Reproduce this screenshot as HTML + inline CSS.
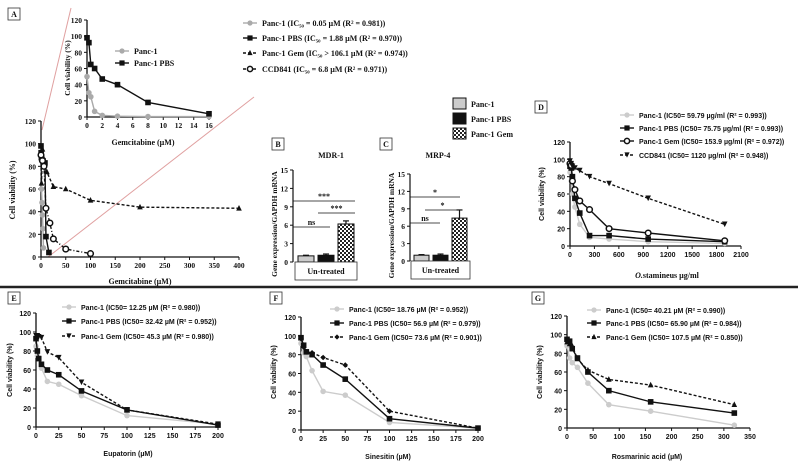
<!DOCTYPE html>
<html><head><meta charset="utf-8"><style>
html,body{margin:0;padding:0;background:#fff;}
svg{display:block;}
.serif{font-family:"Liberation Serif",serif;font-weight:bold;}
.sans{font-family:"Liberation Sans",sans-serif;font-weight:bold;}
</style></head><body>
<svg id="fig" width="798" height="468" viewBox="0 0 798 468" xmlns="http://www.w3.org/2000/svg">
<line x1="0" y1="287" x2="798" y2="287" stroke="#222" stroke-width="2.5"/>
<line x1="71" y1="8" x2="42" y2="130" stroke="#e0a0a0" stroke-width="1"/>
<line x1="254" y1="97" x2="48" y2="257" stroke="#e0a0a0" stroke-width="1"/>
</svg>
<script>
// ---- Panel A main data ----
const aMainX1 = [0,1,2,3,4,5];
const aMainPanc1 = [86,60,48,37,25,8];
const aMainX2 = [0,0.25,0.5,1,2,4,8,10,16];
const aMainPbs = [98,92,90,88,86,85,83,18,4];
const aMainX3 = [0,1,3,6,12,25,50,100,200,400];
const aMainGem = [92,65,95,85,75,62,60,50,44,43];
const aMainX4 = [0,3,6,10,18,25,50,100];
const aMainCcd = [90,85,80,43,30,16,7,3];
// ---- Panel A inset data ----
const aInX = [0,0.25,0.5,1,2,4,8,16];
const aInPanc1 = [50,30,25,7,2,1,0.5,0.5];
const aInPbs = [98,92,65,60,47,40,18,4];
// ---- Panel B / C bars ----
const barCats = ["Panc-1","Panc-1 PBS","Panc-1 Gem"];
const bVals = [1,1.1,6.2];
const bErr = [0.1,0.2,0.5];
const cVals = [1,1,7.4];
const cErr = [0.1,0.2,1.4];
const barTicks = [0,3,6,9,12,15];
// ---- Panel D ----
const dX = [0,15,30,60,120,240,480,960,1900];
const dPanc1 = [85,75,60,45,25,10,8,5,3];
const dPbs = [92,90,80,55,38,12,12,8,5];
const dGem = [95,93,75,65,52,42,20,15,6];
const dCcd = [98,95,92,90,87,80,72,55,25];
// ---- Panel E ----
const eX = [0,1.5,3,6,12.5,25,50,100,200];
const ePanc1 = [85,75,73,62,48,45,33,12,3];
const ePbs = [93,80,72,66,60,55,38,18,2];
const eGem = [96,96,95,94,79,73,47,18,3];
// ---- Panel F ----
const fX = [0,3,6,12.5,25,50,100,200];
const fPanc1 = [92,82,78,63,41,37,8,2];
const fPbs = [98,90,83,80,69,54,12,2];
const fGem = [97,88,83,82,77,69,20,2];
// ---- Panel G ----
const gX = [0,5,10,20,40,80,160,320];
const gPanc1 = [88,75,70,65,48,25,18,3];
const gPbs = [95,93,85,75,60,40,28,16];
const gGem = [92,90,88,74,62,52,46,25];
// ---- ticks ----
const ticks120 = [0,20,40,60,80,100,120];
const aMainXTicks = [0,50,100,150,200,250,300,350,400];
const aInXTicks = [0,2,4,6,8,10,12,14,16];
const dXTicks = [0,300,600,900,1200,1500,1800,2100];
const efXTicks = [0,25,50,75,100,125,150,175,200];
const gXTicks = [0,50,100,150,200,250,300,350];

const NS="http://www.w3.org/2000/svg";
const svg=document.getElementById('fig');
function mk(tag,attrs,parent){const e=document.createElementNS(NS,tag);for(const k in attrs)e.setAttribute(k,attrs[k]);(parent||svg).appendChild(e);return e;}
function txt(s,x,y,size,cls,anchor,parent,rot){const t=mk('text',{x:x,y:y,'font-size':size,'class':cls,'text-anchor':anchor||'middle',fill:'#111'},parent);if(rot)t.setAttribute('transform','rotate(-90 '+x+' '+y+')');t.textContent=s;return t;}

function axes(name,box,xd,yd,xt,yt,cls,fs){
  const g=mk('g',{});
  
  
  const sx=v=>box.x0+(v-xd[0])/(xd[1]-xd[0])*(box.x1-box.x0);
  const sy=v=>box.y0-(v-yd[0])/(yd[1]-yd[0])*(box.y0-box.y1);
  mk('line',{x1:box.x0,y1:box.y0,x2:box.x1,y2:box.y0,stroke:'#111','stroke-width':1.3},g);
  mk('line',{x1:box.x0,y1:box.y0,x2:box.x0,y2:box.y1,stroke:'#111','stroke-width':1.3},g);
  xt.forEach(v=>{mk('line',{x1:sx(v),y1:box.y0,x2:sx(v),y2:box.y0+3,stroke:'#111'},g);txt(String(v),sx(v),box.y0+11,fs,cls,'middle',g);});
  yt.forEach(v=>{mk('line',{x1:box.x0-3,y1:sy(v),x2:box.x0,y2:sy(v),stroke:'#111'},g);txt(String(v),box.x0-5,sy(v)+3,fs,cls,'end',g);});
  return {sx,sy,g};
}
function marker(type,x,y,color,g,r){
  r=r||2.8;
  if(type==='circle')mk('circle',{cx:x,cy:y,r:r,fill:color},g);
  else if(type==='ocircle')mk('circle',{cx:x,cy:y,r:r,fill:'#fff',stroke:color,'stroke-width':1.5},g);
  else if(type==='square')mk('rect',{x:x-r,y:y-r,width:2*r,height:2*r,fill:color},g);
  else if(type==='tri')mk('polygon',{points:`${x},${y-r-0.5} ${x-r},${y+r-0.5} ${x+r},${y+r-0.5}`,fill:color},g);
  else if(type==='dtri')mk('polygon',{points:`${x},${y+r} ${x-r},${y-r} ${x+r},${y-r}`,fill:color},g);
  else if(type==='diamond')mk('polygon',{points:`${x},${y-r} ${x+r},${y} ${x},${y+r} ${x-r},${y}`,fill:color},g);
}
function series(ax,name,xs,ys,color,type,dash,w){
  const g=mk('g',{},ax.g);
  
  
  const pts=xs.map((x,i)=>ax.sx(x)+','+ax.sy(ys[i])).join(' ');
  mk('polyline',{points:pts,fill:'none',stroke:color,'stroke-width':w||1.4,'stroke-dasharray':dash||'none'},g);
  xs.forEach((x,i)=>marker(type,ax.sx(x),ax.sy(ys[i]),color,g));
}
function legend(name,x,y,label,color,type,dash,size,cls,lw){
  const g=mk('g',{});
  
  
  mk('line',{x1:x,y1:y,x2:x+14,y2:y,stroke:color,'stroke-width':1.4,'stroke-dasharray':dash||'none'},g);
  marker(type,x+7,y,color,g,2.6);
  txt(label,x+19,y+3,size,cls,'start',g);
}
function panelLabel(name,ch,x,y,cls){
  const g=mk('g',{});
  
  
  mk('rect',{x:x,y:y,width:12,height:12,fill:'#fff',stroke:'#333','stroke-width':0.8},g);
  txt(ch,x+6,y+9,8,'serif','middle',g);
}
const G1='#aaa',BK='#111';

// ===== Panel A =====
panelLabel('panel-a-label','A',8,8);
const aM=axes('panel-a-main-chart',{x0:41,x1:239,y0:257,y1:121},[0,400],[0,120],aMainXTicks,ticks120,'serif',7.5);
series(aM,'a-main-panc1',aMainX1,aMainPanc1,G1,'circle');
series(aM,'a-main-pbs',aMainX2,aMainPbs,BK,'square');
series(aM,'a-main-gem',aMainX3,aMainGem,BK,'tri','3,2');
series(aM,'a-main-ccd841',aMainX4,aMainCcd,BK,'ocircle','3,2,1,2');
txt('Cell viability  (%)',15,190,8,'serif','middle',aM.g,true);
txt('Gemcitabine (µM)',140,284,8,'serif','middle',aM.g);
const aI=axes('panel-a-inset-chart',{x0:87,x1:209,y0:117,y1:20},[0,16],[0,120],aInXTicks,ticks120,'serif',7.5);
series(aI,'a-inset-panc1',aInX,aInPanc1,G1,'circle');
series(aI,'a-inset-pbs',aInX,aInPbs,BK,'square');
txt('Cell viability  (%)',70,68,7.5,'serif','middle',aI.g,true);
txt('Gemcitabine (µM)',143,145,8,'serif','middle',aI.g);
legend('a-inset-legend-panc1',115,51,'Panc-1',G1,'circle',null,8,'serif');
legend('a-inset-legend-pbs',115,63,'Panc-1 PBS',BK,'square',null,8,'serif');
legend('a-legend-panc1',243,23,'Panc-1 (IC₅₀ = 0.05 µM (R² = 0.981))',G1,'circle',null,8,'serif');
legend('a-legend-pbs',243,38,'Panc-1 PBS (IC₅₀ = 1.88 µM (R² = 0.970))',BK,'square',null,8,'serif');
legend('a-legend-gem',243,53,'Panc-1 Gem (IC₅₀ > 106.1  µM (R² = 0.974))',BK,'tri','3,2',8,'serif');
legend('a-legend-ccd841',243,69,'CCD841 (IC₅₀ = 6.8 µM (R² = 0.971))',BK,'ocircle','3,2',8,'serif');

// ===== Bars B / C =====
function defsPat(){const d=mk('defs',{});const p=mk('pattern',{id:'chk',width:4,height:4,patternUnits:'userSpaceOnUse'},d);mk('rect',{width:4,height:4,fill:'#fff'},p);mk('rect',{width:2,height:2,fill:'#222'},p);mk('rect',{x:2,y:2,width:2,height:2,fill:'#222'},p);}
defsPat();
const fills=['#ccc','#111','url(#chk)'];
function barPanel(name,lab,labx,title,tx,ax0,y0,y1,vals,errs,bx,bw,sig){
  panelLabel(name+'-label',lab,labx,138);
  const g=mk('g',{});
  
  
  const sy=v=>y0-v/15*(y0-y1);
  txt(title,tx,158,8,'serif','middle',g);
  mk('line',{x1:ax0,y1:y0,x2:ax0,y2:y1,stroke:'#111','stroke-width':1.2},g);
  barTicks.forEach(v=>{mk('line',{x1:ax0-3,y1:sy(v),x2:ax0,y2:sy(v),stroke:'#111'},g);txt(String(v),ax0-5,sy(v)+3,7.5,'serif','end',g);});
  txt('Gene expression/GAPDH mRNA',ax0-16,(y0+y1)/2+8,7.5,'serif','middle',g,true);
  vals.forEach((v,i)=>{
    const b=mk('rect',{x:bx[i],y:sy(v),width:bw,height:y0-sy(v),fill:fills[i],stroke:'#111','stroke-width':1},g);
    
    
    const cx=bx[i]+bw/2;
    mk('line',{x1:cx,y1:sy(v),x2:cx,y2:sy(v+errs[i]),stroke:'#111','stroke-width':1.2},g);
    mk('line',{x1:cx-3,y1:sy(v+errs[i]),x2:cx+3,y2:sy(v+errs[i]),stroke:'#111','stroke-width':1.2},g);
  });
  mk('rect',{x:bx[0]-3,y:y0,width:bx[2]+bw-bx[0]+6,height:18,fill:'#fff',stroke:'#333','stroke-width':0.8},g);
  txt('Un-treated',(bx[0]+bx[2]+bw)/2,y0+12,8,'serif','middle',g);
  sig.forEach(s=>{mk('line',{x1:s[0],y1:s[2],x2:s[1],y2:s[2],stroke:'#111','stroke-width':0.8},g);txt(s[3],(s[0]+s[1])/2,s[2]-2,8,'serif','middle',g);});
}
barPanel('panel-b-chart','B',272,'MDR-1',331,293,262,170,bVals,bErr,[298,318,338],16,[[293,355,201,'***'],[318,355,213,'***'],[293,330,227,'ns']]);
barPanel('panel-c-chart','C',380,'MRP-4',438,410,261,174,cVals,cErr,[414,433,452],15,[[410,460,197,'*'],[425,460,210,'*'],[410,440,223,'ns']]);
barCats.forEach((c,i)=>{
  const g=mk('g',{});
  
  
  mk('rect',{x:453,y:98+i*15,width:13,height:11,fill:fills[i],stroke:'#111','stroke-width':1},g);
  txt(c,471,107+i*15,8,'serif','start',g);
});

// ===== Panel D =====
panelLabel('panel-d-label','D',535,101);
const dA=axes('panel-d-chart',{x0:570,x1:741,y0:246,y1:142},[0,2100],[0,120],dXTicks,ticks120,'sans',7);
series(dA,'d-panc1',dX,dPanc1,'#ccc','circle');
series(dA,'d-pbs',dX,dPbs,BK,'square');
series(dA,'d-gem',dX,dGem,BK,'ocircle');
series(dA,'d-ccd841',dX,dCcd,BK,'dtri','3,2');
txt('Cell viability (%)',544,194,7,'sans','middle',dA.g,true);
const dl=txt('',667,278,8,'serif','middle',dA.g);dl.innerHTML='<tspan font-style="italic">O.</tspan>stamineus µg/ml';
legend('d-legend-panc1',620,115,'Panc-1 (IC50= 59.79 µg/ml (R² = 0.993))','#ccc','circle',null,7,'sans');
legend('d-legend-pbs',620,128,'Panc-1 PBS (IC50= 75.75 µg/ml (R² = 0.993))',BK,'square',null,7,'sans');
legend('d-legend-gem',620,141,'Panc-1 Gem (IC50= 153.9 µg/ml (R² = 0.972))',BK,'ocircle',null,7,'sans');
legend('d-legend-ccd841',620,155,'CCD841 (IC50= 1120 µg/ml (R² = 0.948))',BK,'dtri','3,2',7,'sans');

// ===== Panel E =====
panelLabel('panel-e-label','E',8,292);
const eA=axes('panel-e-chart',{x0:36,x1:218,y0:427,y1:313},[0,200],[0,120],efXTicks,ticks120,'sans',7);
series(eA,'e-panc1',eX,ePanc1,'#ccc','circle');
series(eA,'e-pbs',eX,ePbs,BK,'square');
series(eA,'e-gem',eX,eGem,BK,'dtri','3,2');
txt('Cell viability (%)',12,370,7,'sans','middle',eA.g,true);
txt('Eupatorin (µM)',128,456,7,'sans','middle',eA.g);
legend('e-legend-panc1',62,307,'Panc-1 (IC50= 12.25 µM (R² = 0.980))','#ccc','circle',null,7,'sans');
legend('e-legend-pbs',62,321,'Panc-1 PBS (IC50= 32.42 µM (R² = 0.952))',BK,'square',null,7,'sans');
legend('e-legend-gem',62,336,'Panc-1 Gem (IC50= 45.3 µM (R² = 0.980))',BK,'dtri','3,2',7,'sans');

// ===== Panel F =====
panelLabel('panel-f-label','F',270,292);
const fA=axes('panel-f-chart',{x0:301,x1:478,y0:430,y1:317},[0,200],[0,120],efXTicks,ticks120,'sans',7);
series(fA,'f-panc1',fX,fPanc1,'#ccc','circle');
series(fA,'f-pbs',fX,fPbs,BK,'square');
series(fA,'f-gem',fX,fGem,BK,'diamond','3,2');
txt('Cell viability (%)',276,372,7,'sans','middle',fA.g,true);
txt('Sinesitin (µM)',388,459,7,'sans','middle',fA.g);
legend('f-legend-panc1',330,309,'Panc-1 (IC50= 18.76 µM (R² = 0.952))','#ccc','circle',null,7,'sans');
legend('f-legend-pbs',330,323,'Panc-1 PBS (IC50= 56.9 µM (R² = 0.979))',BK,'square',null,7,'sans');
legend('f-legend-gem',330,337,'Panc-1 Gem (IC50= 73.6 µM (R² = 0.901))',BK,'diamond','3,2',7,'sans');

// ===== Panel G =====
panelLabel('panel-g-label','G',532,292);
const gA=axes('panel-g-chart',{x0:567,x1:750,y0:428,y1:316},[0,350],[0,120],gXTicks,ticks120,'sans',7);
series(gA,'g-panc1',gX,gPanc1,'#ccc','circle');
series(gA,'g-pbs',gX,gPbs,BK,'square');
series(gA,'g-gem',gX,gGem,BK,'tri','3,2');
txt('Cell viability (%)',542,372,7,'sans','middle',gA.g,true);
txt('Rosmarinic acid (µM)',647,459,7,'sans','middle',gA.g);
legend('g-legend-panc1',587,310,'Panc-1 (IC50= 40.21 µM (R² = 0.990))','#ccc','circle',null,7,'sans');
legend('g-legend-pbs',587,323,'Panc-1 PBS (IC50= 65.90 µM (R² = 0.984))',BK,'square',null,7,'sans');
legend('g-legend-gem',587,337,'Panc-1 Gem (IC50= 107.5 µM (R² = 0.850))',BK,'tri','3,2',7,'sans');
</script>
</body></html>
